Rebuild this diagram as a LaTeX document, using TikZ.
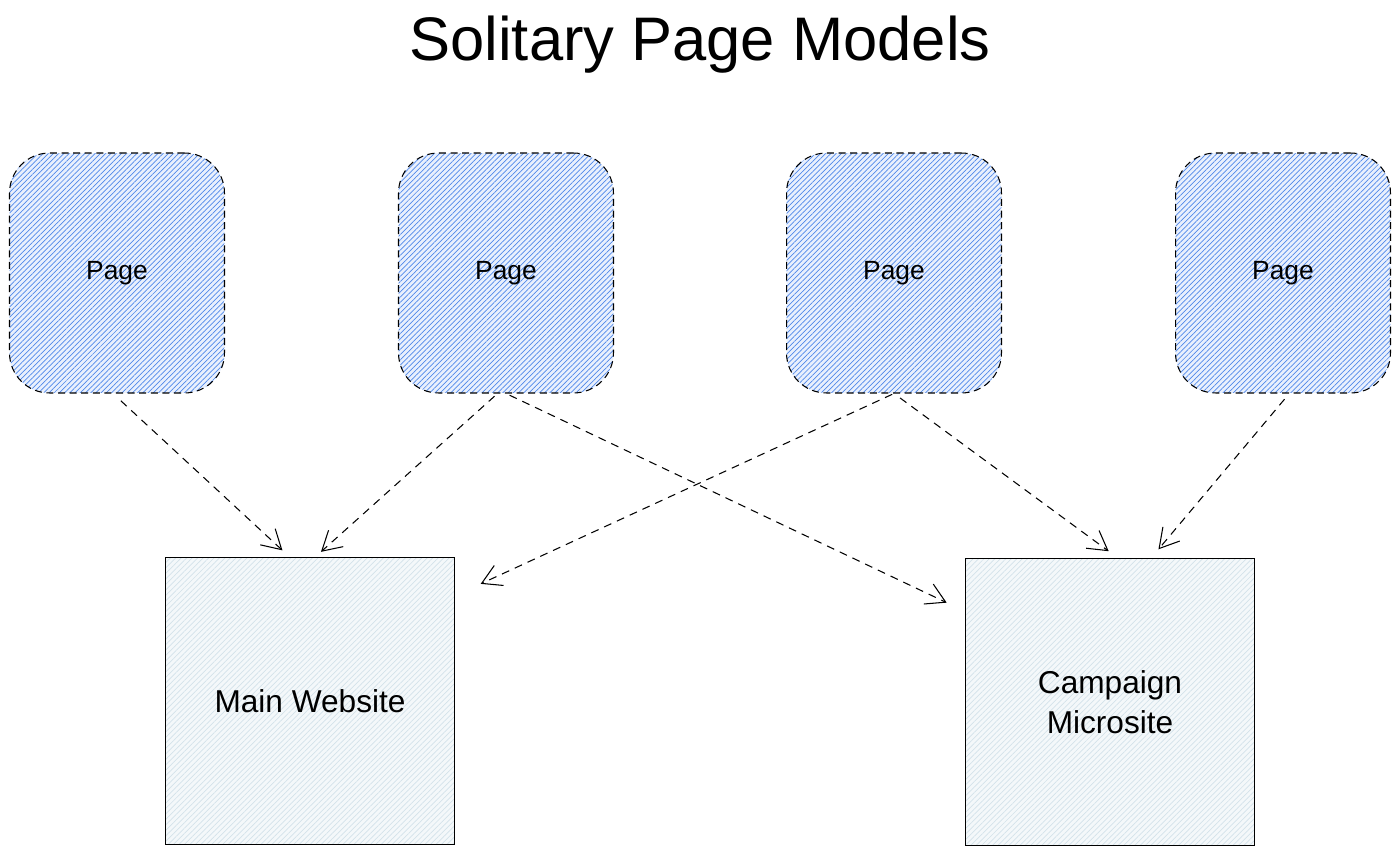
\documentclass[tikz,border=0pt]{standalone}
\usepackage{fontspec}
\setmainfont{Liberation Sans}
\usetikzlibrary{arrows.meta,patterns.meta}

\definecolor{pageblue}{HTML}{4F88EA}
\definecolor{pagebg}{HTML}{E9F0FD}
\definecolor{sitelines}{HTML}{D3E2EA}
\definecolor{sitebg}{HTML}{F4F8FA}

\begin{document}
\begin{tikzpicture}[x=0.02cm, y=-0.02cm,
  pagebox/.style={draw, line width=0.6pt, dash pattern=on 4pt off 2.6pt, rounded corners=0.8cm,
    minimum width=4.3cm, minimum height=4.8cm, preaction={fill=pagebg},
    pattern={Lines[angle=45, distance=2.1pt, line width=0.4pt]}, pattern color=pageblue,
    font=\fontsize{15}{18}\selectfont},
  sitebox/.style={draw, line width=0.9pt, minimum width=5.78cm, minimum height=5.74cm,
    preaction={fill=sitebg}, pattern={Lines[angle=45, distance=2.2pt, line width=0.4pt]},
    pattern color=sitelines, align=center, font=\fontsize{18}{23}\selectfont},
  link/.style={line width=0.6pt, dash pattern=on 4.5pt off 3.5pt,
    -{Straight Barb[length=3.8mm, width=4.4mm]}}]
\useasboundingbox (0,0) rectangle (1400,854);

\node (title) at (700,45) {\fontsize{35}{40}\selectfont Solitary Page Models};

\node[pagebox] (p1) at (117,273) {Page};
\node[pagebox] (p2) at (506,273) {Page};
\node[pagebox] (p3) at (894,273) {Page};
\node[pagebox] (p4) at (1283,273) {Page};

\node[sitebox] (main) at (310,701) {Main Website};
\node[sitebox] (camp) at (1110,702) {Campaign\\Microsite};

\draw[link, shorten <=0.22cm, shorten >=0.2cm] (p1.268) -- (main.98);
\draw[link, shorten <=0.08cm, shorten >=0.16cm] (p2.266) -- (main.88);
\draw[link, shorten <=0.08cm, shorten >=0.4cm] (p2.south) -- (camp.148);
\draw[link, shorten <=0.04cm, shorten >=0.57cm] (p3.south) -- (main.36);
\draw[link, shorten <=0.15cm, shorten >=0.22cm] (p3.south) -- (camp.87);
\draw[link, shorten <=0.15cm, shorten >=0.22cm] (p4.273) -- (camp.74);
\end{tikzpicture}
\end{document}
